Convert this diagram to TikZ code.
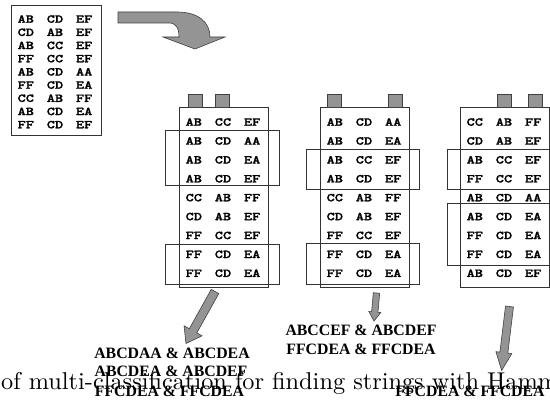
\documentclass[tikz,border=0pt]{standalone}
\usepackage{fontspec}
\newfontfamily\monofam{lmmonolt10-bold.otf}[FakeStretch=1.3,FakeBold=1.5]
\newfontfamily\labfam{Liberation Serif}
\newfontfamily\capfam{lmroman10-regular.otf}
\usetikzlibrary{calc}

% three two-letter groups set with a fixed gap
\newlength\grpgap
\setlength\grpgap{12.8pt}
\newcommand\tri[3]{#1\hspace{\grpgap}#2\hspace{\grpgap}#3}

% block arrow: tail, tip, shaft half width, head half width, head length
\newcommand\blockarrow[5]{%
  \coordinate (hb) at ($(#2)!#5!(#1)$);
  \draw[arrowbody]
    ($(#1)!#3!90:(#2)$) -- ($(hb)!#3!-90:(#1)$) -- ($(hb)!#4!-90:(#1)$) -- (#2)
    -- ($(hb)!#4!90:(#1)$) -- ($(hb)!#3!90:(#1)$) -- ($(#1)!#3!-90:(#2)$) -- cycle;
}

\begin{document}
\begin{tikzpicture}[x=1pt,y=-1pt,
  frame/.style={draw=black!80, line width=0.9pt},
  bracket/.style={draw=black!80, line width=0.7pt},
  tab/.style={draw=black!75, fill=black!42, line width=0.6pt},
  arrowbody/.style={draw=black!75, fill=black!42, line width=0.6pt, line join=miter},
  row/.style={font=\monofam\fontsize{12}{12}\selectfont, inner sep=0pt, text depth=0pt},
  lab/.style={font=\labfam\bfseries\fontsize{15.8}{15.8}\selectfont, inner sep=0pt, anchor=base},
  captext/.style={font=\capfam\fontsize{24.3}{24.3}\selectfont, inner sep=0pt, anchor=base west}]
\useasboundingbox (0,0) rectangle (550,403);
\clip (0,0) rectangle (550,403);

% ---- input list ----
\draw[frame] (11,5) rectangle (101,135);
\foreach \a/\b/\c [count=\i from 0] in
  {AB/CD/EF, CD/AB/EF, AB/CC/EF, FF/CC/EF, AB/CD/AA, FF/CD/EA, CC/AB/FF, AB/CD/EA, FF/CD/EF}
  \node[row] (in\i) at (55, 19+13.2*\i) {\tri{\a}{\b}{\c}};

% ---- bent arrow ----
\draw[arrowbody] (118,12) -- (177,12) .. controls (198,12) and (210,22) .. (210,37)
  -- (225,37) -- (195,49) -- (163,37) -- (179,37)
  .. controls (179,28) and (176,23) .. (169,23) -- (118,23) -- cycle;

% ---- sorted list 1 (tabs on columns 1 and 2) ----
\draw[frame] (179,107) rectangle (268,287);
\draw[tab] (188,94) rectangle (202,107);
\draw[tab] (215,94) rectangle (229,107);
\foreach \a/\b/\c [count=\i from 0] in
  {AB/CC/EF, AB/CD/AA, AB/CD/EA, AB/CD/EF, CC/AB/FF, CD/AB/EF, FF/CC/EF, FF/CD/EA, FF/CD/EA}
  \node[row] (s1r\i) at (223, 122+18.9*\i) {\tri{\a}{\b}{\c}};
\draw[bracket] (165,130.7) rectangle (279,185);
\draw[bracket] (165,244.3) rectangle (279,284.3);

% ---- sorted list 2 (tabs on columns 1 and 3) ----
\draw[frame] (320,107) rectangle (409,287);
\draw[tab] (327,94) rectangle (341,107);
\draw[tab] (388,94) rectangle (402,107);
\foreach \a/\b/\c [count=\i from 0] in
  {AB/CD/AA, AB/CD/EA, AB/CC/EF, AB/CD/EF, CC/AB/FF, CD/AB/EF, FF/CC/EF, FF/CD/EA, FF/CD/EA}
  \node[row] (s2r\i) at (364, 122+18.9*\i) {\tri{\a}{\b}{\c}};
\draw[bracket] (306,149) rectangle (419,189);
\draw[bracket] (306,243.3) rectangle (419,284.3);

% ---- sorted list 3 (tabs on columns 2 and 3) ----
\draw[frame] (460,107) rectangle (549,287);
\draw[tab] (497,94) rectangle (511,107);
\draw[tab] (528,94) rectangle (542,107);
\foreach \a/\b/\c [count=\i from 0] in
  {CC/AB/FF, CD/AB/EF, AB/CC/EF, FF/CC/EF, AB/CD/AA, AB/CD/EA, FF/CD/EA, FF/CD/EA, AB/CD/EF}
  \node[row] (s3r\i) at (504, 122+18.9*\i) {\tri{\a}{\b}{\c}};
\draw[bracket] (447,149) rectangle (549,189);
\draw[bracket] (447,203.3) rectangle (549,265.7);

% ---- caption line ----
\node[captext] (caption) at (1,390) {of multi-classification for finding strings with Hamm};

% ---- pairs found in each list ----
\node[lab] (p1a) at (172,359) {ABCDAA \& ABCDEA};
\node[lab] (p1b) at (171,377) {ABCDEA \& ABCDEF};
\node[lab] (p1c) at (169.5,397) {FFCDEA \& FFCDEA};
\node[lab] (p2a) at (361,336) {ABCCEF \& ABCDEF};
\node[lab] (p2b) at (361,355) {FFCDEA \& FFCDEA};
\node[lab] (p3a) at (470,397) {FFCDEA \& FFCDEA};

% ---- arrows from each list to its pairs ----
\coordinate (t1) at (215,291.5);  \coordinate (h1) at (186,343.5);
\coordinate (t2) at (376.5,293);  \coordinate (h2) at (374,321);
\coordinate (t3) at (509.5,306.5); \coordinate (h3) at (501.7,370.5);
\blockarrow{t1}{h1}{4.3pt}{10.3pt}{14.5pt}
\blockarrow{t2}{h2}{3.2pt}{6pt}{9pt}
\blockarrow{t3}{h3}{4pt}{8pt}{18pt}
\end{tikzpicture}
\end{document}
